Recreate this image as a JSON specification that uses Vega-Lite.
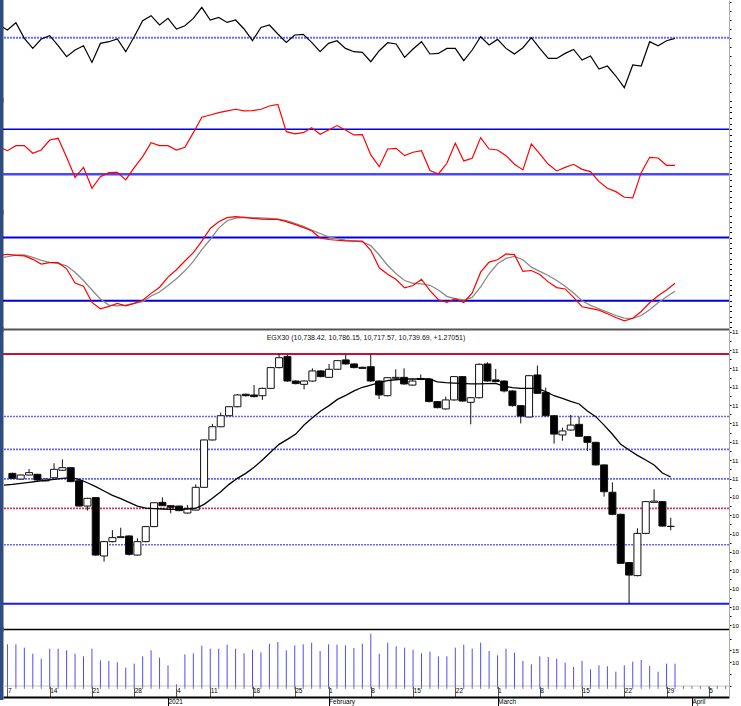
{
 "$schema": "https://vega.github.io/schema/vega-lite/v6.json",
 "padding": 0,
 "background": "#ffffff",
 "spacing": 0,
 "bounds": "flush",
 "config": {
  "view": {"stroke": null},
  "axis": {"grid": false, "minExtent": 0, "labelFont": "Liberation Sans", "labelColor": "#000", "labelOverlap": false, "labelFlush": false, "title": null},
  "concat": {"spacing": 0}
 },
 "datasets": {
  "levels": [{"p": "mom", "v": 100}, {"p": "rsi", "v": 70}, {"p": "rsi", "v": 30}, {"p": "sto", "v": 80}, {"p": "sto", "v": 20}, {"p": "vol", "v": 0}],
  "fib": [{"r": 1, "p": 11678}, {"r": 0.75, "p": 11338}, {"r": 0.618, "p": 11158.5}, {"r": 0.5, "p": 10998}, {"r": 0.382, "p": 10837.5}, {"r": 0.236, "p": 10639}, {"r": 0, "p": 10318}],
  "candles": [
   {"i":0,"o":11028,"h":11032,"l":10997,"c":11001,"v":175.8},
   {"i":1,"o":10997,"h":11022,"l":10994,"c":11019,"v":175.8},
   {"i":2,"o":11019,"h":11052,"l":11017,"c":11032,"v":161.7},
   {"i":3,"o":11023,"h":11025,"l":10989,"c":10992,"v":136.4},
   {"i":4,"o":10987,"h":11000,"l":10984,"c":10997,"v":115.3},
   {"i":5,"o":11004,"h":11083,"l":11002,"c":11050,"v":157.5},
   {"i":6,"o":11045,"h":11104,"l":11042,"c":11059,"v":157.5},
   {"i":7,"o":11059,"h":11062,"l":10980,"c":10983,"v":150.5},
   {"i":8,"o":10988,"h":10990,"l":10848,"c":10850,"v":136.4},
   {"i":9,"o":10850,"h":10895,"l":10825,"c":10892,"v":125.2},
   {"i":10,"o":10896,"h":10898,"l":10580,"c":10583,"v":157.5},
   {"i":11,"o":10578,"h":10660,"l":10547,"c":10656,"v":108.3},
   {"i":12,"o":10656,"h":10719,"l":10652,"c":10678,"v":105.5},
   {"i":13,"o":10678,"h":10732,"l":10676,"c":10683,"v":99.9},
   {"i":14,"o":10687,"h":10690,"l":10580,"c":10587,"v":77.4},
   {"i":15,"o":10583,"h":10674,"l":10580,"c":10656,"v":94.2},
   {"i":16,"o":10656,"h":10742,"l":10653,"c":10738,"v":125.2},
   {"i":17,"o":10738,"h":10872,"l":10735,"c":10868,"v":150.5},
   {"i":18,"o":10870,"h":10897,"l":10850,"c":10852,"v":119.6},
   {"i":19,"o":10852,"h":10853,"l":10810,"c":10843,"v":87.2},
   {"i":20,"o":10850,"h":10852,"l":10822,"c":10825,"v":7.0},
   {"i":21,"o":10812,"h":10856,"l":10808,"c":10837,"v":133.6},
   {"i":22,"o":10828,"h":10968,"l":10826,"c":10952,"v":137.8},
   {"i":23,"o":10952,"h":11213,"l":10950,"c":11210,"v":170.2},
   {"i":24,"o":11210,"h":11297,"l":11207,"c":11282,"v":157.5},
   {"i":25,"o":11282,"h":11359,"l":11280,"c":11342,"v":157.5},
   {"i":26,"o":11342,"h":11395,"l":11340,"c":11391,"v":174.4},
   {"i":27,"o":11391,"h":11460,"l":11388,"c":11455,"v":157.5},
   {"i":28,"o":11459,"h":11462,"l":11447,"c":11451,"v":137.8},
   {"i":29,"o":11455,"h":11509,"l":11442,"c":11446,"v":153.3},
   {"i":30,"o":11451,"h":11495,"l":11428,"c":11491,"v":142.1},
   {"i":31,"o":11491,"h":11607,"l":11488,"c":11604,"v":178.6},
   {"i":32,"o":11604,"h":11678,"l":11600,"c":11658,"v":185.7},
   {"i":33,"o":11664,"h":11673,"l":11527,"c":11531,"v":150.5},
   {"i":34,"o":11531,"h":11535,"l":11513,"c":11517,"v":171.6},
   {"i":35,"o":11513,"h":11535,"l":11486,"c":11531,"v":175.8},
   {"i":36,"o":11531,"h":11600,"l":11527,"c":11586,"v":182.8},
   {"i":37,"o":11586,"h":11590,"l":11551,"c":11555,"v":147.7},
   {"i":38,"o":11551,"h":11624,"l":11548,"c":11595,"v":175.8},
   {"i":39,"o":11595,"h":11645,"l":11591,"c":11642,"v":174.4},
   {"i":40,"o":11646,"h":11676,"l":11620,"c":11624,"v":171.6},
   {"i":41,"o":11624,"h":11627,"l":11600,"c":11604,"v":160.3},
   {"i":42,"o":11606,"h":11608,"l":11597,"c":11600,"v":178.6},
   {"i":43,"o":11609,"h":11676,"l":11527,"c":11531,"v":220.8},
   {"i":44,"o":11531,"h":11535,"l":11433,"c":11455,"v":136.4},
   {"i":45,"o":11451,"h":11553,"l":11447,"c":11549,"v":182.8},
   {"i":46,"o":11546,"h":11595,"l":11542,"c":11551,"v":167.4},
   {"i":47,"o":11551,"h":11600,"l":11511,"c":11515,"v":161.7},
   {"i":48,"o":11509,"h":11540,"l":11505,"c":11531,"v":153.3},
   {"i":49,"o":11545,"h":11567,"l":11536,"c":11540,"v":137.8},
   {"i":50,"o":11542,"h":11546,"l":11415,"c":11419,"v":144.9},
   {"i":51,"o":11419,"h":11422,"l":11382,"c":11386,"v":125.2},
   {"i":52,"o":11379,"h":11446,"l":11375,"c":11428,"v":125.2},
   {"i":53,"o":11428,"h":11558,"l":11424,"c":11555,"v":161.7},
   {"i":54,"o":11555,"h":11558,"l":11418,"c":11422,"v":174.4},
   {"i":55,"o":11415,"h":11444,"l":11295,"c":11440,"v":157.5},
   {"i":56,"o":11440,"h":11627,"l":11436,"c":11622,"v":182.8},
   {"i":57,"o":11624,"h":11633,"l":11527,"c":11531,"v":147.7},
   {"i":58,"o":11537,"h":11597,"l":11524,"c":11528,"v":129.4},
   {"i":59,"o":11531,"h":11535,"l":11469,"c":11477,"v":157.5},
   {"i":60,"o":11477,"h":11480,"l":11391,"c":11397,"v":140.7},
   {"i":61,"o":11397,"h":11400,"l":11300,"c":11340,"v":105.5},
   {"i":62,"o":11335,"h":11564,"l":11332,"c":11560,"v":91.4},
   {"i":63,"o":11564,"h":11615,"l":11460,"c":11464,"v":125.2},
   {"i":64,"o":11468,"h":11495,"l":11338,"c":11342,"v":122.4},
   {"i":65,"o":11342,"h":11345,"l":11190,"c":11242,"v":115.3},
   {"i":66,"o":11237,"h":11277,"l":11206,"c":11259,"v":98.5},
   {"i":67,"o":11264,"h":11346,"l":11261,"c":11291,"v":80.2},
   {"i":68,"o":11295,"h":11337,"l":11226,"c":11230,"v":105.5},
   {"i":69,"o":11228,"h":11230,"l":11150,"c":11197,"v":70.3},
   {"i":70,"o":11197,"h":11200,"l":11070,"c":11074,"v":87.2},
   {"i":71,"o":11074,"h":11076,"l":10901,"c":10928,"v":83.0},
   {"i":72,"o":10925,"h":10979,"l":10800,"c":10805,"v":60.5},
   {"i":73,"o":10805,"h":10808,"l":10534,"c":10538,"v":87.2},
   {"i":74,"o":10542,"h":10545,"l":10318,"c":10474,"v":102.7},
   {"i":75,"o":10471,"h":10729,"l":10467,"c":10701,"v":109.7},
   {"i":76,"o":10701,"h":10878,"l":10697,"c":10874,"v":84.4},
   {"i":77,"o":10870,"h":10941,"l":10866,"c":10877,"v":60.5},
   {"i":78,"o":10874,"h":10878,"l":10737,"c":10741,"v":94.2},
   {"i":79,"o":10738.42,"h":10786.15,"l":10717.57,"c":10739.69,"v":94.2}
  ],
  "ind": [
   {"i":-1,"m":101.27,"rsi":54.6,"k":63.0,"d":60.5,"ma":10964},
   {"i":0,"m":100.77,"rsi":51.0,"k":64.1,"d":61.8,"ma":10968},
   {"i":1,"m":101.5,"rsi":55.5,"k":63.1,"d":63.4,"ma":10974},
   {"i":2,"m":99.93,"rsi":55.5,"k":62.5,"d":63.4,"ma":10979},
   {"i":3,"m":98.93,"rsi":48.7,"k":59.3,"d":61.2,"ma":10985},
   {"i":4,"m":99.87,"rsi":51.6,"k":54.8,"d":58.3,"ma":10990},
   {"i":5,"m":100.2,"rsi":60.5,"k":56.1,"d":56.4,"ma":10995},
   {"i":6,"m":99.2,"rsi":62.0,"k":56.1,"d":55.4,"ma":11001},
   {"i":7,"m":98.1,"rsi":45.1,"k":50.3,"d":53.2,"ma":11005},
   {"i":8,"m":98.77,"rsi":27.3,"k":36.9,"d":47.1,"ma":10995},
   {"i":9,"m":99.2,"rsi":36.2,"k":33.7,"d":39.2,"ma":10977},
   {"i":10,"m":97.53,"rsi":17.6,"k":18.4,"d":30.2,"ma":10956},
   {"i":11,"m":99.43,"rsi":27.9,"k":12.4,"d":21.6,"ma":10932},
   {"i":12,"m":99.6,"rsi":31.5,"k":14.6,"d":15.9,"ma":10908},
   {"i":13,"m":99.87,"rsi":31.8,"k":17.5,"d":15.2,"ma":10890},
   {"i":14,"m":98.6,"rsi":25.0,"k":15.2,"d":15.9,"ma":10870},
   {"i":15,"m":100.1,"rsi":35.9,"k":17.5,"d":17.5,"ma":10850},
   {"i":16,"m":101.7,"rsi":45.7,"k":20.4,"d":19.1,"ma":10839},
   {"i":17,"m":102.2,"rsi":58.1,"k":27.0,"d":24.5,"ma":10836},
   {"i":18,"m":101.27,"rsi":55.5,"k":32.8,"d":28.3,"ma":10834},
   {"i":19,"m":101.93,"rsi":55.5,"k":42.4,"d":34.4,"ma":10832},
   {"i":20,"m":100.87,"rsi":51.6,"k":49.4,"d":40.8,"ma":10832},
   {"i":21,"m":101.2,"rsi":54.0,"k":57.7,"d":48.4,"ma":10834},
   {"i":22,"m":101.93,"rsi":67.0,"k":65.6,"d":57.4,"ma":10838},
   {"i":23,"m":103.03,"rsi":80.7,"k":76.5,"d":68.5,"ma":10859},
   {"i":24,"m":101.77,"rsi":82.7,"k":88.6,"d":78.1,"ma":10892},
   {"i":25,"m":102.03,"rsi":84.8,"k":95.0,"d":88.9,"ma":10928},
   {"i":26,"m":101.53,"rsi":86.3,"k":98.8,"d":95.9,"ma":10968},
   {"i":27,"m":101.77,"rsi":87.8,"k":99.8,"d":98.5,"ma":11001},
   {"i":28,"m":100.87,"rsi":86.3,"k":99.1,"d":99.1,"ma":11028},
   {"i":29,"m":99.7,"rsi":86.6,"k":98.2,"d":98.8,"ma":11061},
   {"i":30,"m":101.03,"rsi":87.8,"k":97.5,"d":98.5,"ma":11101},
   {"i":31,"m":101.27,"rsi":90.7,"k":97.2,"d":98.2,"ma":11144},
   {"i":32,"m":100.37,"rsi":92.2,"k":97.2,"d":97.5,"ma":11186},
   {"i":33,"m":99.53,"rsi":67.9,"k":95.0,"d":95.9,"ma":11213},
   {"i":34,"m":100.27,"rsi":65.9,"k":92.4,"d":93.4,"ma":11242},
   {"i":35,"m":100.33,"rsi":67.0,"k":89.6,"d":90.5,"ma":11291},
   {"i":36,"m":99.53,"rsi":71.5,"k":86.4,"d":87.0,"ma":11331},
   {"i":37,"m":98.6,"rsi":65.6,"k":79.7,"d":83.8,"ma":11368},
   {"i":38,"m":99.43,"rsi":69.4,"k":78.1,"d":80.6,"ma":11397},
   {"i":39,"m":99.7,"rsi":73.3,"k":77.4,"d":79.0,"ma":11431},
   {"i":40,"m":98.93,"rsi":69.4,"k":76.8,"d":77.4,"ma":11453},
   {"i":41,"m":98.6,"rsi":65.0,"k":76.5,"d":76.8,"ma":11477},
   {"i":42,"m":98.53,"rsi":65.3,"k":76.5,"d":75.9,"ma":11497},
   {"i":43,"m":97.6,"rsi":47.2,"k":67.9,"d":72.3,"ma":11509},
   {"i":44,"m":98.7,"rsi":36.8,"k":51.3,"d":63.4,"ma":11522},
   {"i":45,"m":99.5,"rsi":52.5,"k":45.2,"d":53.5,"ma":11533},
   {"i":46,"m":99.37,"rsi":53.1,"k":40.1,"d":45.6,"ma":11538},
   {"i":47,"m":98.03,"rsi":46.6,"k":32.2,"d":39.2,"ma":11542},
   {"i":48,"m":98.87,"rsi":49.6,"k":34.4,"d":36.6,"ma":11542},
   {"i":49,"m":99.6,"rsi":51.0,"k":40.4,"d":36.0,"ma":11542},
   {"i":50,"m":98.37,"rsi":33.3,"k":29.6,"d":34.7,"ma":11542},
   {"i":51,"m":98.43,"rsi":30.3,"k":21.0,"d":30.2,"ma":11526},
   {"i":52,"m":98.93,"rsi":39.8,"k":18.4,"d":24.2,"ma":11522},
   {"i":53,"m":98.93,"rsi":57.6,"k":21.9,"d":21.9,"ma":11520},
   {"i":54,"m":97.7,"rsi":41.9,"k":18.4,"d":20.7,"ma":11518},
   {"i":55,"m":98.77,"rsi":44.2,"k":27.4,"d":23.2,"ma":11515},
   {"i":56,"m":100.1,"rsi":62.6,"k":47.1,"d":33.1,"ma":11515},
   {"i":57,"m":99.27,"rsi":52.5,"k":56.7,"d":45.6,"ma":11517},
   {"i":58,"m":99.83,"rsi":51.6,"k":58.9,"d":55.1,"ma":11518},
   {"i":59,"m":98.93,"rsi":46.6,"k":64.4,"d":60.2,"ma":11502},
   {"i":60,"m":98.37,"rsi":38.9,"k":63.7,"d":62.1,"ma":11495},
   {"i":61,"m":99.0,"rsi":33.9,"k":47.8,"d":58.9,"ma":11491},
   {"i":62,"m":100.0,"rsi":57.0,"k":48.7,"d":51.9,"ma":11491},
   {"i":63,"m":98.93,"rsi":48.1,"k":44.9,"d":47.8,"ma":11491},
   {"i":64,"m":97.93,"rsi":38.9,"k":37.9,"d":44.0,"ma":11473},
   {"i":65,"m":97.93,"rsi":33.0,"k":32.5,"d":39.2,"ma":11451},
   {"i":66,"m":98.43,"rsi":36.2,"k":31.2,"d":33.7,"ma":11437},
   {"i":67,"m":98.83,"rsi":38.9,"k":23.2,"d":27.4,"ma":11420},
   {"i":68,"m":97.77,"rsi":34.4,"k":14.3,"d":20.0,"ma":11406},
   {"i":69,"m":98.17,"rsi":32.4,"k":12.7,"d":15.6,"ma":11368},
   {"i":70,"m":96.87,"rsi":23.5,"k":11.1,"d":12.4,"ma":11337},
   {"i":71,"m":97.17,"rsi":17.6,"k":7.6,"d":9.2,"ma":11291},
   {"i":72,"m":96.17,"rsi":14.6,"k":4.1,"d":6.0,"ma":11241},
   {"i":73,"m":95.0,"rsi":9.6,"k":0.9,"d":3.5,"ma":11186},
   {"i":74,"m":97.27,"rsi":9.0,"k":3.4,"d":3.2,"ma":11155},
   {"i":75,"m":97.17,"rsi":31.5,"k":9.8,"d":6.0,"ma":11126},
   {"i":76,"m":99.6,"rsi":45.1,"k":18.1,"d":11.4,"ma":11101},
   {"i":77,"m":99.2,"rsi":44.5,"k":24.8,"d":18.1,"ma":11074},
   {"i":78,"m":99.7,"rsi":38.0,"k":30.2,"d":23.8,"ma":11030},
   {"i":79,"m":99.93,"rsi":38.0,"k":36.6,"d":29.0,"ma":11008}
  ],
  "days": [{"i":0},{"i":1},{"i":2},{"i":3},{"i":4},{"i":5},{"i":6},{"i":7},{"i":8},{"i":9},{"i":10},{"i":11},{"i":12},{"i":13},{"i":14},{"i":15},{"i":16},{"i":17},{"i":18},{"i":19},{"i":20},{"i":21},{"i":22},{"i":23},{"i":24},{"i":25},{"i":26},{"i":27},{"i":28},{"i":29},{"i":30},{"i":31},{"i":32},{"i":33},{"i":34},{"i":35},{"i":36},{"i":37},{"i":38},{"i":39},{"i":40},{"i":41},{"i":42},{"i":43},{"i":44},{"i":45},{"i":46},{"i":47},{"i":48},{"i":49},{"i":50},{"i":51},{"i":52},{"i":53},{"i":54},{"i":55},{"i":56},{"i":57},{"i":58},{"i":59},{"i":60},{"i":61},{"i":62},{"i":63},{"i":64},{"i":65},{"i":66},{"i":67},{"i":68},{"i":69},{"i":70},{"i":71},{"i":72},{"i":73},{"i":74},{"i":75},{"i":76},{"i":77},{"i":78},{"i":79},{"i":80},{"i":81},{"i":82},{"i":83},{"i":84},{"i":85}]
 },
 "vconcat": [
  {
   "width": 726, "height": 100,
   "layer": [
    {"data": {"name": "levels"}, "transform": [{"filter": "datum.p == 'mom'"}],
     "mark": {"type": "rule", "color": "#6b6bff", "strokeWidth": 2, "strokeDash": [2, 1]},
     "encoding": {"y": {"field": "v", "type": "quantitative", "scale": {"domain": [93.77, 103.77], "nice": false, "zero": false},
       "axis": {"orient": "left", "domain": true, "domainColor": "#2e4c7e", "domainWidth": 5, "domainCap": "square", "offset": 2.5, "ticks": false, "labels": false}}}},
    {"data": {"name": "ind"}, "mark": {"type": "line", "color": "#000000", "strokeWidth": 1.2, "clip": true},
     "encoding": {
      "x": {"field": "i", "type": "quantitative", "scale": {"domain": [-0.527, 85.39], "nice": false, "zero": false}, "axis": null},
      "y": {"field": "m", "type": "quantitative", "scale": {"domain": [93.77, 103.77], "nice": false, "zero": false},
       "axis": {"orient": "right", "values": [93.7, 94.6, 95.5, 96.4, 97.3, 98.2, 99.1, 100, 100.9, 101.8, 102.7, 103.6], "labels": false, "tickSize": 2, "tickColor": "#000", "domainColor": "#aaaaaa"}}}}
   ],
   "resolve": {"axis": {"y": "independent"}}
  },
  {
   "width": 726, "height": 112,
   "layer": [
    {"data": {"name": "levels"}, "transform": [{"filter": "datum.p == 'rsi' && datum.v == 70"}],
     "mark": {"type": "rule", "color": "#0000d8", "strokeWidth": 1.6},
     "encoding": {"y": {"field": "v", "type": "quantitative", "scale": {"domain": [-3.5, 96.04], "nice": false, "zero": false},
       "axis": {"orient": "left", "domain": true, "domainColor": "#2e4c7e", "domainWidth": 5, "domainCap": "square", "offset": 2.5, "ticks": false, "labels": false}}}},
    {"data": {"name": "levels"}, "transform": [{"filter": "datum.p == 'rsi' && datum.v == 30"}],
     "mark": {"type": "rule", "color": "#4848ff", "strokeWidth": 2.6},
     "encoding": {"y": {"field": "v", "type": "quantitative", "scale": {"domain": [-3.5, 96.04], "nice": false, "zero": false}, "axis": null}}},
    {"data": {"name": "ind"}, "mark": {"type": "line", "color": "#ff0000", "strokeWidth": 1.2, "clip": true},
     "encoding": {
      "x": {"field": "i", "type": "quantitative", "scale": {"domain": [-0.527, 85.39], "nice": false, "zero": false}, "axis": null},
      "y": {"field": "rsi", "type": "quantitative", "scale": {"domain": [-3.5, 96.04], "nice": false, "zero": false},
       "axis": {"orient": "right", "values": [0, 5, 10, 15, 20, 25, 30, 35, 40, 45, 50, 55, 60, 65, 70, 75, 80, 85, 90, 95], "labels": false, "tickSize": 2.5, "tickColor": "#000", "domainColor": "#aaaaaa"}}}}
   ],
   "resolve": {"axis": {"y": "independent"}}
  },
  {
   "width": 726, "height": 117,
   "layer": [
    {"data": {"name": "levels"}, "transform": [{"filter": "datum.p == 'sto'"}],
     "mark": {"type": "rule", "color": "#0000e0", "strokeWidth": 2},
     "encoding": {"y": {"field": "v", "type": "quantitative", "scale": {"domain": [-6.8, 104.2], "nice": false, "zero": false},
       "axis": {"orient": "left", "domain": true, "domainColor": "#2e4c7e", "domainWidth": 5, "domainCap": "square", "offset": 2.5, "ticks": false, "labels": false}}}},
    {"data": {"name": "ind"}, "mark": {"type": "line", "color": "#8a8a8a", "strokeWidth": 1.3, "clip": true},
     "encoding": {
      "x": {"field": "i", "type": "quantitative", "scale": {"domain": [-0.527, 85.39], "nice": false, "zero": false},
       "axis": {"orient": "bottom", "domain": true, "domainColor": "#555555", "domainWidth": 2, "ticks": false, "labels": false}},
      "y": {"field": "d", "type": "quantitative", "scale": {"domain": [-6.8, 104.2], "nice": false, "zero": false},
       "axis": {"orient": "right", "values": [-5, 0, 5, 10, 15, 20, 25, 30, 35, 40, 45, 50, 55, 60, 65, 70, 75, 80, 85, 90, 95, 100], "labels": false, "tickSize": 2.5, "tickColor": "#000", "domainColor": "#aaaaaa"}}}},
    {"data": {"name": "ind"}, "mark": {"type": "line", "color": "#ff0000", "strokeWidth": 1.2, "clip": true},
     "encoding": {
      "x": {"field": "i", "type": "quantitative", "scale": {"domain": [-0.527, 85.39], "nice": false, "zero": false}, "axis": null},
      "y": {"field": "k", "type": "quantitative", "scale": {"domain": [-6.8, 104.2], "nice": false, "zero": false}, "axis": null}}}
   ],
   "resolve": {"axis": {"y": "independent", "x": "independent"}}
  },
  {
   "width": 726, "height": 300,
   "title": {"text": "EGX30 (10,738.42, 10,786.15, 10,717.57, 10,739.69, +1.27051)", "fontSize": 7, "fontWeight": "normal", "font": "Liberation Sans", "color": "#111111", "anchor": "middle", "offset": -12},
   "layer": [
    {"data": {"name": "fib"}, "transform": [{"filter": "datum.r == 1"}],
     "mark": {"type": "rule", "color": "#c8103c", "strokeWidth": 2},
     "encoding": {"y": {"field": "p", "type": "quantitative", "scale": {"domain": [10180.2, 11814.4], "nice": false, "zero": false},
       "axis": {"orient": "left", "domain": true, "domainColor": "#2e4c7e", "domainWidth": 5, "domainCap": "square", "offset": 2.5, "ticks": false, "labels": false}}}},
    {"data": {"name": "fib"}, "transform": [{"filter": "datum.r == 0.75 || datum.r == 0.618 || datum.r == 0.5 || datum.r == 0.236"}],
     "mark": {"type": "rule", "color": "#6464ff", "strokeWidth": 1.6, "strokeDash": [2, 1]},
     "encoding": {"y": {"field": "p", "type": "quantitative", "scale": {"domain": [10180.2, 11814.4], "nice": false, "zero": false}, "axis": null}}},
    {"data": {"name": "fib"}, "transform": [{"filter": "datum.r == 0.382"}],
     "mark": {"type": "rule", "color": "#e0305a", "strokeWidth": 1.6, "strokeDash": [2, 1]},
     "encoding": {"y": {"field": "p", "type": "quantitative", "scale": {"domain": [10180.2, 11814.4], "nice": false, "zero": false}, "axis": null}}},
    {"data": {"name": "fib"}, "transform": [{"filter": "datum.r == 0"}],
     "mark": {"type": "rule", "color": "#1a1aff", "strokeWidth": 2},
     "encoding": {"y": {"field": "p", "type": "quantitative", "scale": {"domain": [10180.2, 11814.4], "nice": false, "zero": false}, "axis": null}}},
    {"data": {"name": "candles"}, "mark": {"type": "rule", "color": "#111111", "strokeWidth": 1},
     "encoding": {
      "x": {"field": "i", "type": "quantitative", "scale": {"domain": [-0.527, 85.39], "nice": false, "zero": false}, "axis": null},
      "y": {"field": "l", "type": "quantitative", "scale": {"domain": [10180.2, 11814.4], "nice": false, "zero": false},
       "axis": {"orient": "right", "values": [10200,10250,10300,10350,10400,10450,10500,10550,10600,10650,10700,10750,10800,10850,10900,10950,11000,11050,11100,11150,11200,11250,11300,11350,11400,11450,11500,11550,11600,11650,11700,11750,11800],
        "labelExpr": "datum.value % 100 == 0 ? substring(format(datum.value, ','), 0, 2) : ''", "tickSize": 2, "tickColor": "#000", "domainColor": "#aaaaaa", "labelPadding": 0.5, "labelFontSize": 6.2}},
      "y2": {"field": "h"}}},
    {"data": {"name": "candles"}, "mark": {"type": "bar", "size": 7, "stroke": "#111111", "strokeWidth": 1},
     "encoding": {
      "x": {"field": "i", "type": "quantitative", "scale": {"domain": [-0.527, 85.39], "nice": false, "zero": false},
       "axis": {"orient": "bottom", "domain": true, "domainColor": "#000", "domainWidth": 1.5, "ticks": false, "labels": false}},
      "y": {"field": "o", "type": "quantitative", "scale": {"domain": [10180.2, 11814.4], "nice": false, "zero": false}, "axis": null},
      "y2": {"field": "c"},
      "fill": {"condition": {"test": "datum.c < datum.o", "value": "#000000"}, "value": "#ffffff"}}},
    {"data": {"name": "ind"}, "mark": {"type": "line", "color": "#000000", "strokeWidth": 1.3, "clip": true},
     "encoding": {
      "x": {"field": "i", "type": "quantitative", "scale": {"domain": [-0.527, 85.39], "nice": false, "zero": false}, "axis": null},
      "y": {"field": "ma", "type": "quantitative", "scale": {"domain": [10180.2, 11814.4], "nice": false, "zero": false}, "axis": null}}}
   ],
   "resolve": {"axis": {"y": "independent", "x": "independent"}}
  },
  {
   "width": 726, "height": 68,
   "layer": [
    {"data": {"name": "levels"}, "transform": [{"filter": "datum.p == 'vol'"}],
     "mark": {"type": "rule", "color": "#c4c4c4", "strokeWidth": 1},
     "encoding": {"y": {"field": "v", "type": "quantitative", "scale": {"domain": [-46.4, 240.5], "nice": false, "zero": false},
       "axis": {"orient": "right", "values": [0, 50, 100, 150, 200], "labelExpr": "datum.value == 100 || datum.value == 150 ? substring(format(datum.value, 'd'), 0, 2) : ''", "tickSize": 2, "tickColor": "#000", "domainColor": "#aaaaaa", "labelPadding": 0.5, "labelFontSize": 6.2}}}},
    {"data": {"name": "candles"}, "mark": {"type": "rule", "color": "#4d4dff", "strokeWidth": 1},
     "encoding": {
      "x": {"field": "i", "type": "quantitative", "scale": {"domain": [-0.527, 85.39], "nice": false, "zero": false},
       "axis": {"orient": "bottom", "offset": -11, "values": [0,5,10,15,20,24,29,34,38,43,48,53,58,63,68,73,78,83],
        "labelExpr": "['7','14','21','28','4','11','18','25','1','8','15','22','1','8','15','22','29','5'][indexof([0,5,10,15,20,24,29,34,38,43,48,53,58,63,68,73,78,83], datum.value)]",
        "tickSize": 11, "tickColor": "#555555", "domain": false, "labelAlign": "left", "labelDx": 1, "labelPadding": -10, "labelBaseline": "top", "labelFontSize": 6.5}},
      "y": {"field": "v", "type": "quantitative", "scale": {"domain": [-46.4, 240.5], "nice": false, "zero": false},
       "axis": {"orient": "left", "domain": true, "domainColor": "#2e4c7e", "domainWidth": 5, "domainCap": "square", "offset": 2.5, "ticks": false, "labels": false}},
      "y2": {"datum": 0}}},
    {"data": {"name": "days"}, "mark": {"type": "rule", "color": "#777777", "strokeWidth": 1},
     "encoding": {
      "x": {"field": "i", "type": "quantitative", "scale": {"domain": [-0.527, 85.39], "nice": false, "zero": false},
       "axis": {"orient": "bottom", "offset": 0, "values": [19, 38, 58, 81],
        "labelExpr": "['2021','February','March','April'][indexof([19,38,58,81], datum.value)]",
        "tickSize": 9, "tickColor": "#000", "domain": true, "domainColor": "#000", "domainWidth": 2, "labelAlign": "left", "labelDx": 1, "labelPadding": -7.5, "labelBaseline": "top", "labelFontSize": 6.5}},
      "y": {"datum": 0, "type": "quantitative", "scale": {"domain": [-46.4, 240.5], "nice": false, "zero": false}, "axis": null},
      "y2": {"datum": -12}}}
   ],
   "resolve": {"axis": {"y": "independent", "x": "independent"}}
  }
 ]
}
